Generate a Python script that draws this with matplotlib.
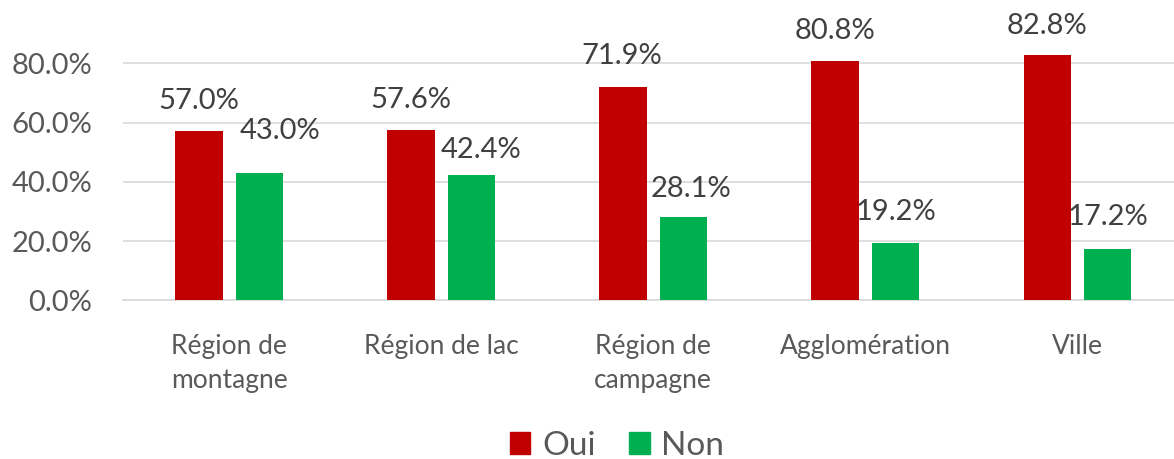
import numpy as np
import matplotlib.pyplot as plt
from matplotlib.patches import Patch
from matplotlib.ticker import FuncFormatter

categories = ['Région de\nmontagne', 'Région de lac', 'Région de\ncampagne', 'Agglomération', 'Ville']
oui = [0.570, 0.576, 0.719, 0.808, 0.828]
non = [0.430, 0.424, 0.281, 0.192, 0.172]

# label nudges in pixels (dx, dy above bar top), some labels were moved by hand
oui_shift = [(0, 30), (0, 30), (-1, 31), (0, 30), (0, 29)]
non_shift = [(21, 42), (10, 25), (8, 28), (0, 31), (0, 32)]

RED = '#C00000'
GREEN = '#00B050'
plt.rcParams['font.family'] = ['Lato', 'DejaVu Sans']

fig = plt.figure(figsize=(11.74, 4.59), dpi=100)
ax = fig.add_axes([123 / 1174, (459 - 300.3) / 459, 1051 / 1174, 266.6 / 459])

x = np.arange(len(categories))
w = 0.2235
off = 0.1425
b1 = ax.bar(x - off, oui, w, color=RED, zorder=3)
b2 = ax.bar(x + off, non, w, color=GREEN, zorder=3)

for bars, vals, shifts in [(b1, oui, oui_shift), (b2, non, non_shift)]:
    for bar, v, (dx, dy) in zip(bars, vals, shifts):
        ax.annotate('%.1f%%' % (v * 100), (bar.get_x() + bar.get_width() / 2, v),
                    xytext=(dx, dy), textcoords='offset pixels',
                    ha='center', va='center', fontsize=21, color='#404040')

ax.set_xlim(-0.5, -0.5 + 1051 / 212.1)
ax.set_ylim(0, 0.9)
ax.set_yticks([0, 0.2, 0.4, 0.6, 0.8])
ax.yaxis.set_major_formatter(FuncFormatter(lambda v, p: '%.1f%%' % (v * 100)))
ax.set_xticks(x)
ax.set_xticklabels(categories, linespacing=1.45)
ax.tick_params(axis='y', length=0, pad=22, labelsize=21, labelcolor='#595959')
ax.tick_params(axis='x', length=0, pad=24, labelsize=19, labelcolor='#595959')
ax.grid(axis='y', color='#D9D9D9', linewidth=1.2, zorder=0)
for s in ['top', 'right', 'left']:
    ax.spines[s].set_visible(False)
ax.spines['bottom'].set_color('#D9D9D9')
ax.spines['bottom'].set_linewidth(1.2)

handles = [Patch(color=RED, label='Oui'), Patch(color=GREEN, label='Non')]
fig.legend(handles=handles, loc='center', bbox_to_anchor=(617 / 1174, 1 - 446 / 459),
           ncol=2, frameon=False, fontsize=24, labelcolor='#595959',
           handlelength=0.62, handleheight=0.62, handletextpad=0.35, columnspacing=1.0)

fig.savefig('out.png', dpi=100)
